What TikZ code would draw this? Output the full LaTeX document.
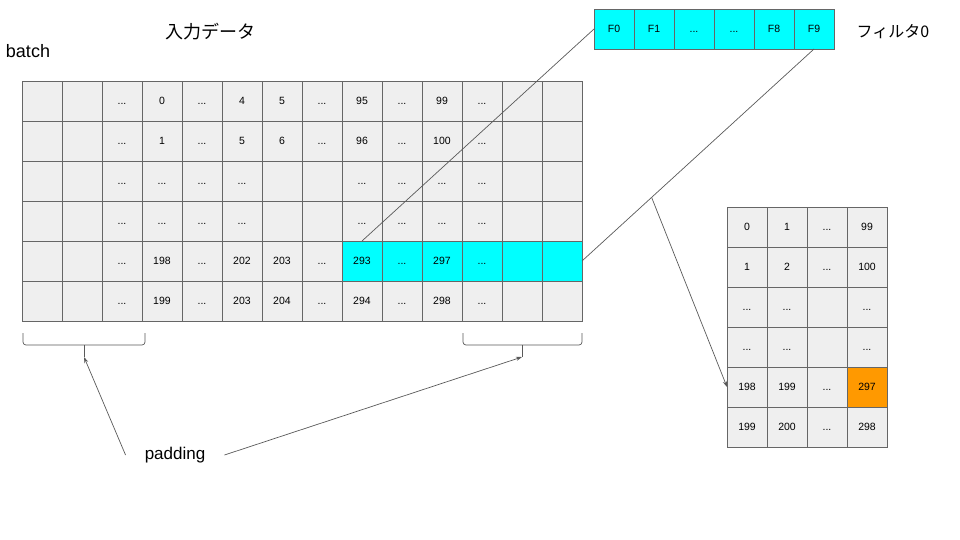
\documentclass[tikz,border=0pt]{standalone}
\usepackage{fontspec}
\setmainfont{Liberation Sans}
\newfontfamily\jafont{Noto Sans CJK JP}
\usetikzlibrary{arrows.meta}
\definecolor{cellgray}{HTML}{EFEFEF}
\definecolor{edgegray}{HTML}{666666}
\definecolor{linegray}{HTML}{595959}
\definecolor{hlcyan}{HTML}{00FFFF}
\definecolor{hlorange}{HTML}{FF9900}
\newcommand\ddd{...}
\tikzset{
	cell/.style={draw=edgegray,fill=cellgray,line width=0.8pt,minimum size=40pt,inner sep=0,outer sep=0,text height=7.6pt,text depth=0pt,font=\fontsize{10.5}{12}\selectfont},
	link/.style={draw=linegray,line width=0.7pt},
	arr/.style={link,-{Stealth[length=6pt,width=4pt]}},
	label/.style={inner sep=0,font=\fontsize{18}{20}\selectfont},
}
\begin{document}
\begin{tikzpicture}[x=1pt,y=-1pt]
	\useasboundingbox (0,0) rectangle (960,540);
	% input data
	\foreach \row [count=\r from 0] in {
		{{},{},\ddd,0,\ddd,4,5,\ddd,95,\ddd,99,\ddd,{},{}},
		{{},{},\ddd,1,\ddd,5,6,\ddd,96,\ddd,100,\ddd,{},{}},
		{{},{},\ddd,\ddd,\ddd,\ddd,{},{},\ddd,\ddd,\ddd,\ddd,{},{}},
		{{},{},\ddd,\ddd,\ddd,\ddd,{},{},\ddd,\ddd,\ddd,\ddd,{},{}},
		{{},{},\ddd,198,\ddd,202,203,\ddd,293,\ddd,297,\ddd,{},{}},
		{{},{},\ddd,199,\ddd,203,204,\ddd,294,\ddd,298,\ddd,{},{}}}
	\foreach \t [count=\c from 0] in \row {
		\def\f{cellgray}
		\ifnum\r=4 \ifnum\c>7 \def\f{hlcyan}\fi\fi
		\node[cell,fill=\f] (m\r-\c) at (42+40*\c,101+40*\r) {\t};
	}
	% filter
	\foreach \t [count=\c from 0] in {F0,F1,\ddd,\ddd,F8,F9}
		\node[cell,fill=hlcyan] (f\c) at (614+40*\c,29) {\t};
	% output
	\foreach \row [count=\r from 0] in {
		{0,1,\ddd,99},{1,2,\ddd,100},{\ddd,\ddd,{},\ddd},
		{\ddd,\ddd,{},\ddd},{198,199,\ddd,297},{199,200,\ddd,298}}
	\foreach \t [count=\c from 0] in \row {
		\def\f{cellgray}
		\ifnum\r=4 \ifnum\c=3 \def\f{hlorange}\fi\fi
		\node[cell,fill=\f] (o\r-\c) at (747+40*\c,227+40*\r) {\t};
	}
	\node[label] (title) at (210,32) {\jafont 入力データ};
	\node[label] (batch) at (28,51) {batch};
	\node[label,font=\fontsize{16}{18}\selectfont] (fname) at (893,32) {\jafont フィルタ0};
	\node[label,font=\fontsize{17}{19}\selectfont,inner xsep=19pt] (pad) at (175,455) {padding};
	\draw[link] (f0.west) -- (m4-8.north);
	\draw[link] (f5.south) -- coordinate[pos=0.7] (split) (m4-13.east);
	\draw[arr] (split) -- (o4-0.west);
	% braces
	\coordinate (lbs) at (23,333); \coordinate (lbm) at (84,345);
	\coordinate (lbe) at (145,333); \coordinate (lbr) at (84,357);
	\coordinate (rbs) at (463,333); \coordinate (rbm) at (522,345);
	\coordinate (rbe) at (582,333); \coordinate (rbr) at (522,357);
	\draw[link,rounded corners=3pt] (lbs) |- (lbm) -| (lbe);
	\draw[link,rounded corners=3pt] (rbs) |- (rbm) -| (rbe);
	\draw[link] (lbm) -- (lbr);
	\draw[link] (rbm) -- (rbr);
	\draw[arr] (pad.west) -- (lbr);
	\draw[arr] (pad.east) -- (rbr);
\end{tikzpicture}
\end{document}
